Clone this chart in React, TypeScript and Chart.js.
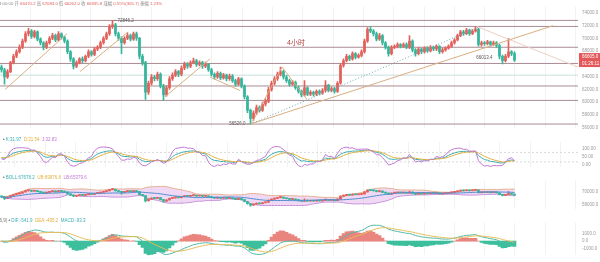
import React, { useEffect, useRef } from "react";
import { Chart, registerables } from "chart.js";
Chart.register(...registerables);

const FONT = '"Liberation Sans", "Noto Sans CJK SC", sans-serif';

// ---------- data (4h candles) ----------
const firstOpen = 65500;
const closes = [
  65080, 63940, 64790, 66210, 67200, 67910, 68620, 69610, 70750, 71170,
  70320, 71030, 69900, 69330, 68620, 69330, 70040, 70460, 69760, 70750,
  70180, 69610, 67910, 66780, 65640, 66210, 66780, 66490, 67200, 67910,
  67490, 68340, 68620, 69330, 70040, 70750, 71880, 72170, 70750, 70040,
  69330, 70040, 70460, 69900, 70750, 70040, 67200, 66210, 61530, 62950,
  63940, 63660, 64370, 62520, 61100, 62240, 63660, 64220, 64790, 64370,
  65360, 65930, 65640, 66210, 66490, 65930, 66210, 65640, 65930, 65080,
  64370, 63940, 64510, 63800, 64220, 63660, 64080, 63370, 62810, 63660,
  62520, 60820, 58690, 57420, 58270, 59120, 58690, 59690, 60110, 61960,
  62950, 63660, 64370, 64790, 63940, 63370, 62810, 63090, 62240, 61670,
  61100, 62240, 61250, 61530, 61250, 61670, 61390, 61810, 62670, 61810,
  62100, 61670, 62950, 65780, 66490, 67200, 66780, 67630, 67060, 67340,
  67910, 69610, 71460, 71170, 70750, 69900, 70460, 69330, 68620, 67630,
  68620, 68760, 69050, 68760, 69050, 68620, 69610, 68200, 67630, 68340,
  67910, 68480, 68050, 68620, 68340, 68760, 67910, 68200, 68480, 68760,
  69330, 69760, 70460, 71030, 70750, 71310, 70750, 71170, 71460, 69050,
  69330, 69190, 69470, 69050, 69330, 68900, 67200, 66490, 67200, 67910,
  67630, 66605,
];
const highs = [
  65800, 65300, 65100, 66400, 67500, 68200, 69000, 69900, 71100, 71600,
  71400, 71300, 71200, 70100, 69500, 69600, 70300, 70800, 70700, 71100,
  70900, 70400, 69800, 68100, 67000, 66500, 67000, 67100, 67400, 68200,
  68100, 68600, 68900, 69600, 70300, 71000, 72200, 72846, 72400, 71000,
  70300, 70300, 70900, 70700, 71000, 71000, 70200, 67500, 66400, 63300,
  64300, 64200, 64700, 64600, 62800, 62600, 64000, 64600, 65100, 65000,
  65700, 66300, 66200, 66500, 66900, 66700, 66500, 66400, 66300, 66100,
  65300, 64600, 64800, 64700, 64500, 64400, 64400, 64300, 63600, 63900,
  63800, 62700, 61000, 58900, 58600, 59500, 59400, 60000, 60500, 62300,
  63300, 64000, 64700, 65500, 65000, 64200, 63600, 63400, 63300, 62500,
  61900, 63370, 62400, 61800, 61700, 61900, 61900, 62100, 63370, 62800,
  62400, 62300, 63200, 66000, 66800, 67500, 67400, 67900, 67800, 67600,
  68200, 69900, 71700, 71880, 71400, 71000, 70800, 70600, 69500, 68800,
  68900, 69000, 69300, 69200, 69300, 69300, 70460, 69800, 68400, 68600,
  68500, 68700, 68700, 68900, 68800, 69000, 68900, 68500, 68700, 69000,
  69600, 70000, 70700, 71300, 71300, 71600, 71500, 71400, 71880, 71600,
  69600, 69500, 69700, 69600, 69600, 69500, 69100, 67400, 67500, 70040,
  68100, 67900,
];
const lows = [
  64700, 62800, 63700, 64600, 66000, 67000, 67700, 68400, 69400, 70400,
  70000, 70100, 69600, 69000, 68200, 68400, 69100, 69800, 69500, 69600,
  69900, 69300, 67600, 66400, 65200, 65400, 66000, 66200, 66300, 67000,
  67200, 67300, 68100, 68400, 69100, 69800, 70500, 71600, 70400, 69700,
  67630, 69100, 69800, 69600, 69700, 69700, 66800, 65800, 60400, 61200,
  62700, 63300, 63400, 62200, 60250, 60900, 62000, 63400, 64000, 64000,
  64100, 65100, 65300, 65400, 66000, 65600, 65700, 65300, 65400, 64800,
  64100, 63600, 63700, 63500, 63600, 63300, 63400, 63100, 62500, 62600,
  62200, 60500, 58300, 56526, 57100, 58000, 58400, 58500, 59400, 59900,
  61700, 62700, 63400, 64100, 63600, 63100, 62500, 62600, 62000, 61400,
  60800, 60900, 61000, 61000, 60900, 61000, 61100, 61200, 61600, 61600,
  61600, 61400, 61500, 62800, 65500, 66300, 66500, 66600, 66800, 66900,
  67100, 67700, 69400, 70900, 70400, 69600, 69700, 69000, 68300, 67200,
  67400, 68400, 68500, 68500, 68600, 68400, 68400, 67900, 67200, 67400,
  67600, 67700, 67800, 67900, 68100, 68100, 67600, 67700, 68000, 68300,
  68600, 69100, 69600, 70300, 70500, 70600, 70500, 70600, 71000, 68800,
  68800, 68900, 69000, 68800, 68900, 68600, 66800, 66013, 66300, 67000,
  67300, 66400,
];

const priceTicks = [56000, 58000, 60000, 62000, 64000, 66000, 68000, 70000, 72000, 74000];
const kdjTicks = [0, 50, 100];
const kdjDashLevels = [80, 20];
const bollTicks = [58000, 70000];
const macdTicks = [-1000, 0, 1000];

const levelLines = [72846.2, 71900, 68620, 66070, 62520, 60250, 56526];
const lightLevel = 64230;
const lastPrice = 66605.0;
const countdown = "01:26:11";

const trendTan = [
  [{ x: 1.17, y: 61960 }, { x: 21.83, y: 70750 }],
  [{ x: 26.17, y: 64790 }, { x: 42.17, y: 71030 }],
  [{ x: 54.5, y: 60820 }, { x: 69.5, y: 66780 }],
  [{ x: 69.5, y: 63940 }, { x: 79.5, y: 61810 }],
  [{ x: 83.5, y: 56710 }, { x: 93.5, y: 65500 }, { x: 101.83, y: 60400 }],
  [{ x: 83, y: 56526 }, { x: 183.83, y: 72020 }],
];
const trendDotted = [{ x: 83, y: 56526 }, { x: 158.83, y: 71740 }];
const trendPale = [{ x: 158.5, y: 71880 }, { x: 192.17, y: 65500 }];

const topInfo: [string, string][] = [
  ["4:00:00 ", "#8a8a8a"], ["开 ", "#8a8a8a"], ["66470.2 ", "#e0605c"],
  ["高 ", "#8a8a8a"], ["67083.0 ", "#e0605c"], ["低 ", "#8a8a8a"], ["66262.0 ", "#e0605c"],
  ["收 ", "#8a8a8a"], ["66835.8 ", "#e0605c"], ["涨幅 ", "#8a8a8a"], ["0.55%(365.7) ", "#e0605c"],
  ["振幅 ", "#8a8a8a"], ["1.23%", "#e0605c"],
];
const kdjLegend: [string, string][] = [["• ", "#555"], ["K:31.97  ", "#3aaeb5"], ["D:31.54  ", "#e2b03e"], ["J:32.83", "#c277d2"]];
const bollLegend: [string, string][] = [["• ", "#555"], ["BOLL:67678.2  ", "#3aaeb5"], ["UB:69976.8  ", "#e2b03e"], ["LB:65379.6", "#c277d2"]];
const macdLegend: [string, string][] = [["26,9) ", "#777"], ["• ", "#555"], ["DIF:-541.9  ", "#3aaeb5"], ["DEA:-495.2  ", "#e2b03e"], ["MACD:-93.3", "#3aaeb5"]];

// ---------- derived ----------
const X_MIN = -0.5;
const X_MAX = 192.17;
const gridIdx = [4.5, 14.6, 24.7, 34.8, 44.9, 55, 65.1, 75.2, 85.3, 95.4, 105.5, 115.6, 125.7, 135.8, 145.9, 156, 166.1, 176.2, 186.3];

const UP = "#e3605b";
const DOWN = "#35b59a";
const opens = closes.map((c, i) => (i === 0 ? firstOpen : closes[i - 1]));
const candleColors = closes.map((c, i) => (c >= opens[i] ? UP : DOWN));

function emaSeries(src: number[], n: number) {
  const k = 2 / (n + 1);
  const out: number[] = [];
  let prev = src[0];
  src.forEach((v, i) => {
    prev = i === 0 ? v : v * k + prev * (1 - k);
    out.push(prev);
  });
  return out;
}
const ema12 = emaSeries(closes, 12);
const ema26 = emaSeries(closes, 26);
const dif = ema12.map((v, i) => v - ema26[i]);
const dea = emaSeries(dif, 9);
const macdHist = dif.map((v, i) => 2 * (v - dea[i]));

const kArr: number[] = [], dArr: number[] = [], jArr: number[] = [];
{
  let k = 50, d = 50;
  closes.forEach((c, i) => {
    const s = Math.max(0, i - 8);
    const hh = Math.max(...highs.slice(s, i + 1));
    const ll = Math.min(...lows.slice(s, i + 1));
    const rsv = hh === ll ? 50 : ((c - ll) / (hh - ll)) * 100;
    k = (2 * k + rsv) / 3;
    d = (2 * d + k) / 3;
    kArr.push(k); dArr.push(d); jArr.push(3 * k - 2 * d);
  });
}
const mid: number[] = [], ub: number[] = [], lb: number[] = [];
closes.forEach((c, i) => {
  const w = closes.slice(Math.max(0, i - 19), i + 1);
  const m = w.reduce((a, b) => a + b, 0) / w.length;
  const sd = Math.sqrt(w.reduce((a, b) => a + (b - m) * (b - m), 0) / w.length);
  mid.push(m); ub.push(m + 2 * sd); lb.push(m - 2 * sd);
});

const pts = (arr: number[]) => arr.map((v, i) => ({ x: i, y: v }));

function candleSets(bodyW: number) {
  return [
    { type: "bar", data: closes.map((c, i) => ({ x: i, y: [lows[i], highs[i]] })), backgroundColor: candleColors, barThickness: 1, grouped: false, order: 2 },
    { type: "bar", data: closes.map((c, i) => ({ x: i, y: [opens[i], c] })), backgroundColor: candleColors, barThickness: bodyW, grouped: false, minBarLength: 1, order: 1 },
  ];
}
function lineSet(data: any[], color: string, extra: any = {}) {
  return { type: "line", data, borderColor: color, borderWidth: 1, pointRadius: 0, fill: false, tension: 0, order: 0, ...extra };
}

function drawSegs(ctx: CanvasRenderingContext2D, x: number, y: number, segs: [string, string][], size: number) {
  ctx.save();
  ctx.font = `${size}px ${FONT}`;
  ctx.textBaseline = "middle";
  ctx.textAlign = "left";
  let cx = x;
  for (const [t, c] of segs) {
    ctx.fillStyle = c;
    ctx.fillText(t, cx, y);
    cx += ctx.measureText(t).width;
  }
  ctx.restore();
}

function baseOptions(yMin: number, yMax: number, yTicks: number[], fmt: (v: number) => string) {
  return {
    animation: false,
    responsive: false,
    devicePixelRatio: 1,
    events: [],
    layout: { padding: 0, autoPadding: false },
    plugins: { legend: { display: false }, tooltip: { enabled: false } },
    scales: {
      x: {
        type: "linear", min: X_MIN, max: X_MAX, offset: false,
        grid: { color: "#f2f2f2", drawTicks: false, lineWidth: 1 },
        border: { display: false },
        ticks: { display: false },
        afterBuildTicks: (s: any) => { s.ticks = gridIdx.map((v) => ({ value: v })); },
        afterFit: (s: any) => { s.height = 0; },
      },
      y: {
        type: "linear", position: "right", min: yMin, max: yMax,
        grid: { display: false, drawTicks: false },
        border: { display: false },
        ticks: { font: { size: 4.5, family: FONT }, color: "#9a9a9a", padding: 4, autoSkip: false, callback: (v: number) => fmt(v) },
        afterBuildTicks: (s: any) => { s.ticks = yTicks.map((v) => ({ value: v })); },
        afterFit: (s: any) => { s.width = 22; },
      },
    },
  };
}

function buildMain() {
  const datasets: any[] = [];
  levelLines.forEach((v) => datasets.push(lineSet([{ x: X_MIN, y: v }, { x: X_MAX, y: v }], "#a98b92", { order: 5 })));
  datasets.push(lineSet([{ x: X_MIN, y: lightLevel }, { x: X_MAX, y: lightLevel }], "#c9dede", { order: 5 }));
  datasets.push(...candleSets(2));
  trendTan.forEach((t) => datasets.push(lineSet(t, "#d8ae82", { order: -1 })));
  datasets.push(lineSet(trendDotted, "#6fa6b8", { borderDash: [1, 2], order: -1 }));
  datasets.push(lineSet(trendPale, "#edcfc6", { order: -1 }));
  const plugin = {
    id: "mainText",
    afterDraw(chart: any) {
      const ctx = chart.ctx as CanvasRenderingContext2D;
      const xs = chart.scales.x, ys = chart.scales.y;
      drawSegs(ctx, -1, 4, topInfo, 4.3);
      ctx.save();
      ctx.font = `7px ${FONT}`;
      ctx.fillStyle = "#b8413c";
      ctx.textAlign = "center";
      ctx.textBaseline = "middle";
      ctx.fillText("4小时", 296, 43);
      ctx.font = `4.5px ${FONT}`;
      ctx.fillStyle = "#555";
      ctx.strokeStyle = "#777";
      ctx.lineWidth = 0.6;
      const hx = xs.getPixelForValue(37), hy = ys.getPixelForValue(highs[37]);
      ctx.beginPath(); ctx.moveTo(hx + 1, hy); ctx.lineTo(hx + 4, hy); ctx.stroke();
      ctx.textAlign = "left";
      ctx.fillText("72846.2", hx + 5, hy);
      const lx = xs.getPixelForValue(83), ly = ys.getPixelForValue(lows[83]);
      ctx.beginPath(); ctx.moveTo(lx - 1, ly); ctx.lineTo(lx - 4, ly); ctx.stroke();
      ctx.textAlign = "right";
      ctx.fillText("56526.0", lx - 5, ly);
      const rx = xs.getPixelForValue(167), ry = ys.getPixelForValue(lows[167]);
      ctx.fillText("66013.4", rx - 10, ry - 6);
      const py = ys.getPixelForValue(lastPrice);
      ctx.fillStyle = "#e4585a";
      ctx.fillRect(579, py - 7, 21, 14);
      ctx.fillStyle = "#ffffff";
      ctx.textAlign = "left";
      ctx.fillText(lastPrice.toFixed(1), 582, py - 3);
      ctx.fillText(countdown, 582, py + 3.5);
      ctx.restore();
    },
  };
  return { type: "bar", data: { datasets }, options: baseOptions(55858, 75007, priceTicks, (v) => v.toFixed(1)), plugins: [plugin] };
}

function buildKdj() {
  const datasets: any[] = [];
  kdjDashLevels.forEach((v) => datasets.push(lineSet([{ x: X_MIN, y: v }, { x: X_MAX, y: v }], "#d9d9d9", { borderDash: [2, 2], order: 5 })));
  datasets.push(lineSet(pts(jArr), "#c277d2"));
  datasets.push(lineSet(pts(dArr), "#e2b03e"));
  datasets.push(lineSet(pts(kArr), "#3aaeb5"));
  const plugin = { id: "kdjText", afterDraw(chart: any) { drawSegs(chart.ctx, 3, 5, kdjLegend, 4.5); } };
  return { type: "line", data: { datasets }, options: baseOptions(-14.6, 147.9, kdjTicks, (v) => v.toFixed(2)), plugins: [plugin] };
}

function buildBoll() {
  const datasets: any[] = [];
  datasets.push(lineSet(pts(ub), "#e7b08e", { fill: "+1", backgroundColor: "rgba(222,170,232,0.45)", order: 4 }));
  datasets.push(lineSet(pts(lb), "#c08ad6", { order: 4 }));
  datasets.push(...candleSets(2));
  datasets.push(lineSet(pts(mid), "#4e8fcf", { order: 0 }));
  const plugin = { id: "bollText", afterDraw(chart: any) { drawSegs(chart.ctx, 3, 3.5, bollLegend, 4.5); } };
  return { type: "bar", data: { datasets }, options: baseOptions(53575, 80107, bollTicks, (v) => v.toFixed(1)), plugins: [plugin] };
}

function buildMacd() {
  const datasets: any[] = [];
  datasets.push({
    type: "bar", data: pts(macdHist),
    backgroundColor: macdHist.map((v) => (v >= 0 ? "#e9857e" : "#3cbf9c")),
    barPercentage: 1, categoryPercentage: 1, order: 3,
  });
  datasets.push(lineSet(pts(dea), "#e8bd5a"));
  datasets.push(lineSet(pts(dif), "#52b9a6"));
  const plugin = { id: "macdText", afterDraw(chart: any) { drawSegs(chart.ctx, -3, 5, macdLegend, 4.5); } };
  return { type: "bar", data: { datasets }, options: baseOptions(-1905, 2476, macdTicks, (v) => v.toFixed(1)), plugins: [plugin] };
}

function Pane({ top, height, build }: { top: number; height: number; build: () => any }) {
  const ref = useRef<HTMLCanvasElement>(null);
  useEffect(() => {
    const chart = new Chart(ref.current as HTMLCanvasElement, build());
    return () => chart.destroy();
  }, []);
  return <canvas ref={ref} width={600} height={height} style={{ position: "absolute", left: 0, top, width: 600, height }} />;
}

export default function App() {
  return (
    <div style={{ position: "fixed", left: 0, top: 0, width: 600, height: 262, background: "#ffffff", overflow: "hidden" }}>
      <Pane top={0} height={135} build={buildMain} />
      <Pane top={135} height={39} build={buildKdj} />
      <Pane top={174} height={42} build={buildBoll} />
      <Pane top={216} height={46} build={buildMacd} />
    </div>
  );
}
